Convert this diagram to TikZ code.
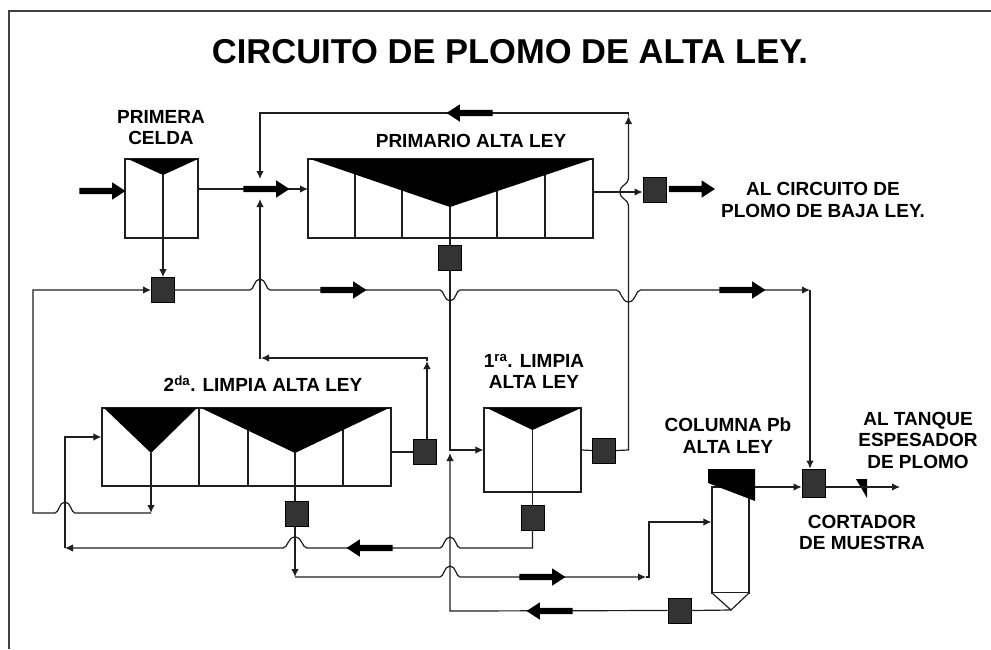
\documentclass[tikz,border=0pt]{standalone}
\usepackage{fontspec}
\setmainfont{Liberation Sans}
\usetikzlibrary{arrows.meta,positioning,calc,shapes.arrows}
\definecolor{lineC}{HTML}{1E1E1E}
\definecolor{pumpC}{HTML}{333333}
\newcommand{\salto}[3]{-- ($(#1)+(#2,0)$) .. controls ($(#1)+(0.6*#2,0)$) and ($(#1)+(0.6*#2,#3)$) .. ($(#1)+(0,#3)$) .. controls ($(#1)+(-0.6*#2,#3)$) and ($(#1)+(-0.6*#2,0)$) .. ($(#1)+(-1*#2,0)$)}
\tikzset{
  unit/.style={rectangle, draw=lineC, line width=1.2pt, fill=white, inner sep=0pt},
  pump/.style={rectangle, draw=black, line width=0.8pt, fill=pumpC, inner sep=0pt, minimum width=23pt, minimum height=25pt},
  flow/.style={line width=1.2pt, draw=lineC},
  arr/.style={flow, -{Latex[length=8pt,width=7.5pt]}},
  fat/.style={single arrow, fill=black, inner xsep=0pt, inner ysep=3pt, outer sep=0pt, minimum width=17pt, minimum height=46pt,
              single arrow head extend=5.5pt, single arrow tip angle=66},
  fatl/.style={fat, shape border rotate=180},
  tag/.style={align=center, font=\bfseries\fontsize{19}{21.5}\selectfont, text=black, inner sep=0pt},
}
\begin{document}
\begin{tikzpicture}[x=1pt,y=-1pt]
    \useasboundingbox (0,0) rectangle (991,649);
    \draw[flow,draw=black!75] (9,649) -- (9,11) -- (991,11);
    \node[font=\bfseries\fontsize{34.5}{38}\selectfont, inner sep=0pt] (title) at (510,52) {CIRCUITO DE PLOMO DE ALTA LEY.};
    \node[unit, minimum width=73pt, minimum height=79pt] (celda) at (161.5,198.5) {};
    \node[unit, minimum width=285pt, minimum height=79pt] (prim) at (450.5,198.5) {};
    \node[unit, minimum width=289pt, minimum height=78pt] (dos) at (246.5,447) {};
    \node[unit, minimum width=97pt, minimum height=84pt] (uno) at (532.5,450) {};
    \node[unit, minimum width=37pt, minimum height=106pt] (col) at (730.5,540) {};
    \foreach \x in {355,402,497,545} \draw[flow] (\x,159) -- (\x,238);
    \foreach \x in {199,248,343} \draw[flow] (\x,408) -- (\x,486);
    \fill[black] (128,159) -- (198,159) -- (163,175) -- cycle;
    \fill[black] (310,159) -- (593,159) -- (450,207) -- cycle;
    \fill[black] (104,408) -- (197,408) -- (151,453) -- cycle;
    \fill[black] (201,408) -- (389,408) -- (295,453) -- cycle;
    \fill[black] (487,408) -- (581,408) -- (532.5,430) -- cycle;
    \fill[black] (708,469) -- (755,469) -- (755,501) -- (708,483) -- cycle;
    \fill[black] (856,479) -- (867,479) -- (867,498) -- cycle;
    \draw[unit] (712,593) -- (731,610) -- (749,593);
    \node[pump] (pA) at (163,290) {};
    \node[pump] (pB) at (450,257.5) {};
    \node[pump] (pC) at (654.5,190) {};
    \node[pump] (pD) at (424.5,452) {};
    \node[pump] (pE) at (296.5,513.5) {};
    \node[pump] (pF) at (532.5,517.5) {};
    \node[pump] (pG) at (679.5,610.5) {};
    \node[pump, minimum height=28pt] (pH) at (813.5,483) {};
    \node[pump] (pI) at (604,450.5) {};
    \coordinate (celdaOut) at (198,189);
    \coordinate (primIn) at (308,189);
    \coordinate (primOut) at (593,192);
    \coordinate (cA) at (163,175);
    \coordinate (cB) at (450,207);
    \coordinate (cC) at (295,453);
    \coordinate (cD) at (151,453);
    \coordinate (cE) at (731,610);
    \coordinate (cF) at (532.5,430);
    \coordinate (xa) at (260,290);
    \coordinate (xb) at (450,290);
    \coordinate (xc) at (628.5,290);
    \coordinate (xd) at (65,513);
    \coordinate (xe) at (295,548);
    \coordinate (xf) at (450,548);
    \coordinate (xg) at (450,577);
    \coordinate (jFin) at (810,290);
    \coordinate (jLeft) at (33,290);
    \coordinate (jLow) at (33,513);
    \coordinate (jDrop) at (151,513);
    \coordinate (jUno) at (450,450);
    \coordinate (jBot) at (450,611);
    \coordinate (jRet) at (65,548);
    \coordinate (jDos) at (65,437);
    \coordinate (jE) at (295,577);
    \coordinate (jCol) at (649,577);
    \coordinate (jColIn) at (649,522);
    \coordinate (jUp) at (427,358);
    \coordinate (jMid) at (260,358);
    \coordinate (jTopR) at (628.5,113);
    \coordinate (jTopL) at (260,113);
    \coordinate (jR) at (628.5,450);
    \coordinate (jCross) at (260,189);
    \coordinate (colOut) at (755,487);
    \coordinate (finEnd) at (900,487);
    \draw[arr] (celdaOut) -- (primIn);
    \draw[arr] (cA) -- (pA);
    \draw[arr] (pA.east) \salto{xa}{-10}{-11} \salto{xb}{-10}{11} \salto{xc}{-12}{12} -- (jFin);
    \draw[arr] (jFin) -- (jFin |- pH.north);
    \draw[arr] (cD) -- (jDrop);
    \draw[arr] (jDrop) \salto{xd}{10}{-11} -- (jLow) -- (jLeft) -- (pA.west);
    \draw[flow] (cB) -- (pB.north);
    \draw[arr] (pB.south) -- (jUno) -- (uno.west);
    \draw[flow] (cE) -- (pG.east);
    \draw[arr] (pG.west) -- (jBot) -- ($(jUno)+(0,3)$);
    \draw[flow] (cF) -- (pF.north);
    \draw[arr] (pF.south) -- (pF.south |- xf) \salto{xf}{10}{-11} \salto{xe}{12}{-11} -- (jRet);
    \draw[arr] (jRet) -- (jDos) -- (dos.west |- jDos);
    \draw[flow] (cC) -- (cC |- pE.north);
    \draw[arr] (pE.south -| jE) -- (jE);
    \draw[arr] (jE) \salto{xg}{-10}{-11} -- ($(jCol)+(-3,0)$);
    \draw[arr] ($(jCol)+(-3,0)$) -- (jCol) -- (jColIn) -- (col.west |- jColIn);
    \draw[arr] (primOut) -- (pC.west |- primOut);
    \draw[flow] (dos.east |- pD) -- (pD.west);
    \draw[arr] (pD.north -| jUp) -- ($(jUp)+(0,3)$);
    \draw[arr] ($(jUp)+(0,3)$) -- (jUp) -- ($(jMid)+(1,0)$);
    \draw[arr] ($(jMid)+(1,0)$) -- (jMid) -- ($(jCross)+(0,10)$);
    \draw[flow] (uno.east) -- (pI.west);
    \draw[arr] (pI.east) -- (jR) -- (628.5,207) .. controls (628.5,198) and (620,200) .. (620,192) .. controls (620,184) and (628.5,186) .. (628.5,177) -- ($(jTopR)+(0,3)$);
    \draw[arr] ($(jTopR)+(0,3)$) -- (jTopR) -- (jTopL) -- ($(jCross)+(0,-10)$);
    \draw[arr] (colOut) -- (pH.west |- colOut);
    \draw[arr] (pH.east |- finEnd) -- (finEnd);
    \node[fat] (fa) at (100,191) {};
    \node[fat] (fb) at (264,189) {};
    \node[fat] (fc) at (689.5,189) {};
    \node[fat] (fd) at (341,290) {};
    \node[fat] (fe) at (740,290) {};
    \node[fat] (ff) at (540,577) {};
    \node[fatl] (fg) at (472,113) {};
    \node[fatl] (fh) at (372,548) {};
    \node[fatl] (fi) at (552,611) {};
    \node[tag] (lcelda) at (161,127.5) {PRIMERA\\CELDA};
    \node[tag] (lprim) at (471,141) {PRIMARIO ALTA LEY};
    \node[tag] (lbaja) at (823,200) {AL CIRCUITO DE\\PLOMO DE BAJA LEY.};
    \node[tag] (ldos) at (263,384) {2\textsuperscript{da}. LIMPIA ALTA LEY};
    \node[tag] (luno) at (534,371.5) {1\textsuperscript{ra}. LIMPIA\\ALTA LEY};
    \node[tag] (lcol) at (728,435.5) {COLUMNA Pb\\ALTA LEY};
    \node[tag] (ltanque) at (918,440) {AL TANQUE\\ESPESADOR\\DE PLOMO};
    \node[tag] (lcort) at (862,532.5) {CORTADOR\\DE MUESTRA};
  \end{tikzpicture}
\end{document}
